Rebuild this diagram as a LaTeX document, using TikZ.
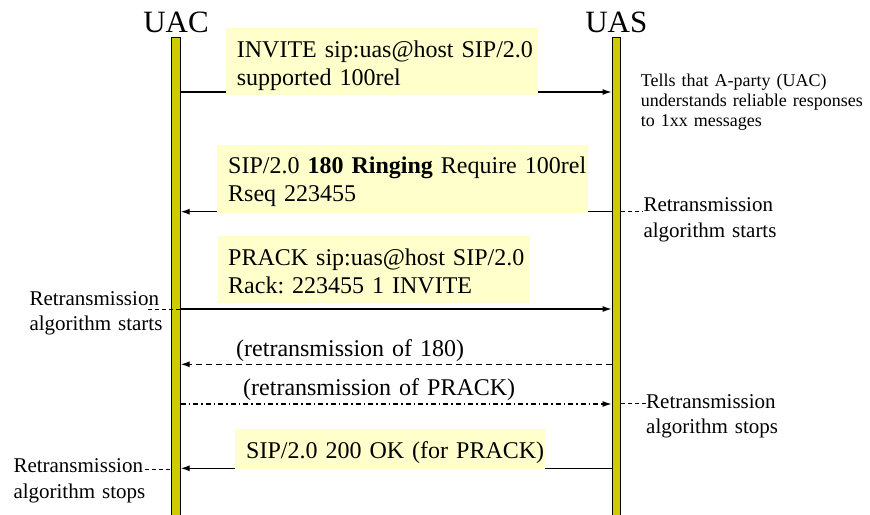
\documentclass[tikz,border=0pt]{standalone}
\usepackage{fontspec}
\setmainfont{Liberation Serif}
\usetikzlibrary{arrows.meta}
\frenchspacing

\definecolor{barcol}{RGB}{204,204,0}
\definecolor{boxcol}{RGB}{255,255,204}

\newcommand{\actorfont}{\fontsize{31}{36}\selectfont}
\newcommand{\msgfont}{\fontsize{24}{28.3}\selectfont}
\newcommand{\remfont}{\fontsize{21}{25.5}\selectfont}
\newcommand{\notefont}{\fontsize{18}{20.4}\selectfont}

\tikzset{
  lifeline/.style={draw=black, fill=barcol, line width=0.9pt,
    minimum width=8.5pt, minimum height=480pt, inner sep=0pt, anchor=north},
  actor/.style={font=\actorfont, anchor=base, inner sep=0pt},
  msg/.style={line width=1.2pt, -{Latex[length=9pt,width=6pt]}},
  msgtext/.style={font=\msgfont, anchor=base west, inner sep=0pt,
    text width=360pt, align=left},
  remark/.style={font=\remfont, anchor=base west, inner sep=0pt,
    text width=150pt, align=left},
  note/.style={font=\notefont, anchor=base west, inner sep=0pt,
    text width=230pt, align=left},
  annline/.style={line width=0.8pt, dash pattern=on 4pt off 3pt}
}

\begin{document}
\begin{tikzpicture}[x=1pt,y=-1pt]
\useasboundingbox (0,0) rectangle (870,514);

% the two lifelines
\node[lifeline] (uac) at (176,37) {};
\node[lifeline] (uas) at (616.3,37) {};
\node[actor] (uaclbl) at (176,32) {UAC};
\node[actor] (uaslbl) at (616.3,32) {UAS};

% message ends on the bars
\foreach \n/\y in {1/92,2/211.7,3/309,4/364.3,5/404,6/468.3}{
  \coordinate (c\n) at (uac.east |- 0,\y);
  \coordinate (s\n) at (uas.west |- 0,\y);
  \coordinate (e\n) at (uas.east |- 0,\y);
}

\draw[msg] (c1) -- (s1); % INVITE
\draw[msg] (s2) -- (c2); % 180
\draw[msg] (c3) -- (s3); % PRACK
\draw[msg, dash pattern=on 6pt off 4pt] (s4) -- (c4);
\draw[msg, dash pattern=on 5pt off 3pt on 1.5pt off 3pt] (c5) -- (s5);
\draw[msg] (s6) -- (c6); % 200 OK

% yellow boxes
\fill[boxcol] (225.7,27.7) rectangle (537.7,95);
\fill[boxcol] (217.3,145) rectangle (588.3,212.7);
\fill[boxcol] (218.3,236) rectangle (530,303.3);
\fill[boxcol] (235,429.3) rectangle (545,469);

\node[msgtext] (t1) at (236.7,57) {INVITE sip:uas@host SIP/2.0\\supported 100rel};
\node[msgtext] (t2) at (228,173.3) {SIP/2.0 \textbf{180 Ringing} Require 100rel\\Rseq 223455};
\node[msgtext] (t3) at (228,265) {PRACK sip:uas@host SIP/2.0\\Rack: 223455 1 INVITE};
\node[msgtext] (t4) at (236,356.7) {(retransmission of 180)};
\node[msgtext] (t5) at (243,395) {(retransmission of PRACK)};
\node[msgtext] (t6) at (246,458.3) {SIP/2.0 200 OK (for PRACK)};

% side remarks
\node[note] (n1) at (640.7,86) {Tells that A-party (UAC)\\understands reliable responses\\to 1xx messages};

\node[remark] (r1) at (643.3,211.7) {Retransmission\\algorithm starts};
\node[remark] (r2) at (29.3,305) {Retransmission\\algorithm starts};
\node[remark] (r3) at (646,408) {Retransmission\\algorithm stops};
\node[remark] (r4) at (13.3,472.7) {Retransmission\\algorithm stops};

\coordinate (a2) at (148,309);
\coordinate (a4) at (145,469);
\draw[annline] (e2) -- (r1.west |- e2);
\draw[annline] (a2) -- (c3);
\draw[annline] (uas.east |- 0,403) -- (r3.west |- 0,403);
\draw[annline] (a4) -- (uac.west |- a4);
\end{tikzpicture}
\end{document}
